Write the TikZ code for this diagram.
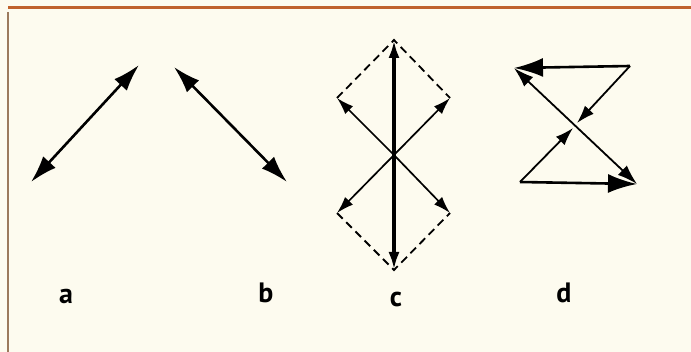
\documentclass[tikz,border=0pt]{standalone}
\usepackage{fontspec}
\setmainfont{PT Sans}
\usetikzlibrary{arrows.meta}
\definecolor{paper}{HTML}{FDFBEF}
\definecolor{rule}{HTML}{C0622C}
\definecolor{side}{HTML}{9C7A5C}

\begin{document}
\begin{tikzpicture}[
    x=1pt, y=-1pt,
    arr/.style={{Latex[length=27pt,width=17pt]}-{Latex[length=27pt,width=17pt]}, line width=2.6pt},
    thinarr/.style={-{Latex[length=17pt,width=11pt]}, line width=1.7pt},
    bigarr/.style={-{Latex[length=29pt,width=19pt]}, line width=2.6pt},
    midarr/.style={-{Latex[length=18pt,width=12pt]}, line width=1.8pt},
    dashline/.style={dash pattern=on 8pt off 5pt, line width=1.8pt},
    lbl/.style={font=\fontsize{28}{30}\selectfont\bfseries, inner sep=0pt},
  ]
    % background and frame
    \fill[paper] (0,0) rectangle (691,352);
    \useasboundingbox (0,0) rectangle (691,352);
    \draw[rule, line width=3pt] (8,8) -- (691,8);
    \draw[side, line width=2pt] (7.5,12) -- (7.5,352);

    % a
    \coordinate (a1) at (31,182);
    \coordinate (a2) at (139,65);
    \draw[arr] (a1) -- (a2);

    % b
    \coordinate (b1) at (174,67);
    \coordinate (b2) at (287,182);
    \draw[arr] (b1) -- (b2);

    % c
    \coordinate (ct) at (394,40);
    \coordinate (cb) at (394,270);
    \coordinate (cc) at (394,155);
    \coordinate (cul) at (337,98);
    \coordinate (cur) at (450,98);
    \coordinate (cll) at (337,213);
    \coordinate (clr) at (450,213);
    \draw[dashline] (cul) -- (ct) -- (cur);
    \draw[dashline] (cll) -- (cb) -- (clr);
    \draw[thinarr] (cc) -- (cul);
    \draw[thinarr] (cc) -- (cur);
    \draw[thinarr] (cc) -- (cll);
    \draw[thinarr] (cc) -- (clr);
    \draw[{Latex[length=18pt,width=11pt]}-{Latex[length=18pt,width=11pt]}, line width=4.5pt] (ct) -- (cb);

    % d
    \coordinate (dtl) at (514,68);
    \coordinate (dtr) at (630,66);
    \coordinate (dbl) at (520,182);
    \coordinate (dbr) at (637,184);
    \coordinate (dm1) at (577,123);
    \coordinate (dm2) at (573,128);
    \draw[bigarr] (dtr) -- (dtl);
    \draw[bigarr] (dbl) -- (dbr);
    \draw[{Latex[length=20pt,width=13pt]}-{Latex[length=20pt,width=13pt]}, line width=1.8pt] (dtl) -- (dbr);
    \draw[midarr] (dtr) -- (dm1);
    \draw[midarr] (dbl) -- (dm2);

    % labels
    \node[lbl] (la) at (66,296) {a};
    \node[lbl] (lb) at (266,293) {b};
    \node[lbl] (lc) at (396,300) {c};
    \node[lbl] (ld) at (564,293) {d};
  \end{tikzpicture}
\end{document}
